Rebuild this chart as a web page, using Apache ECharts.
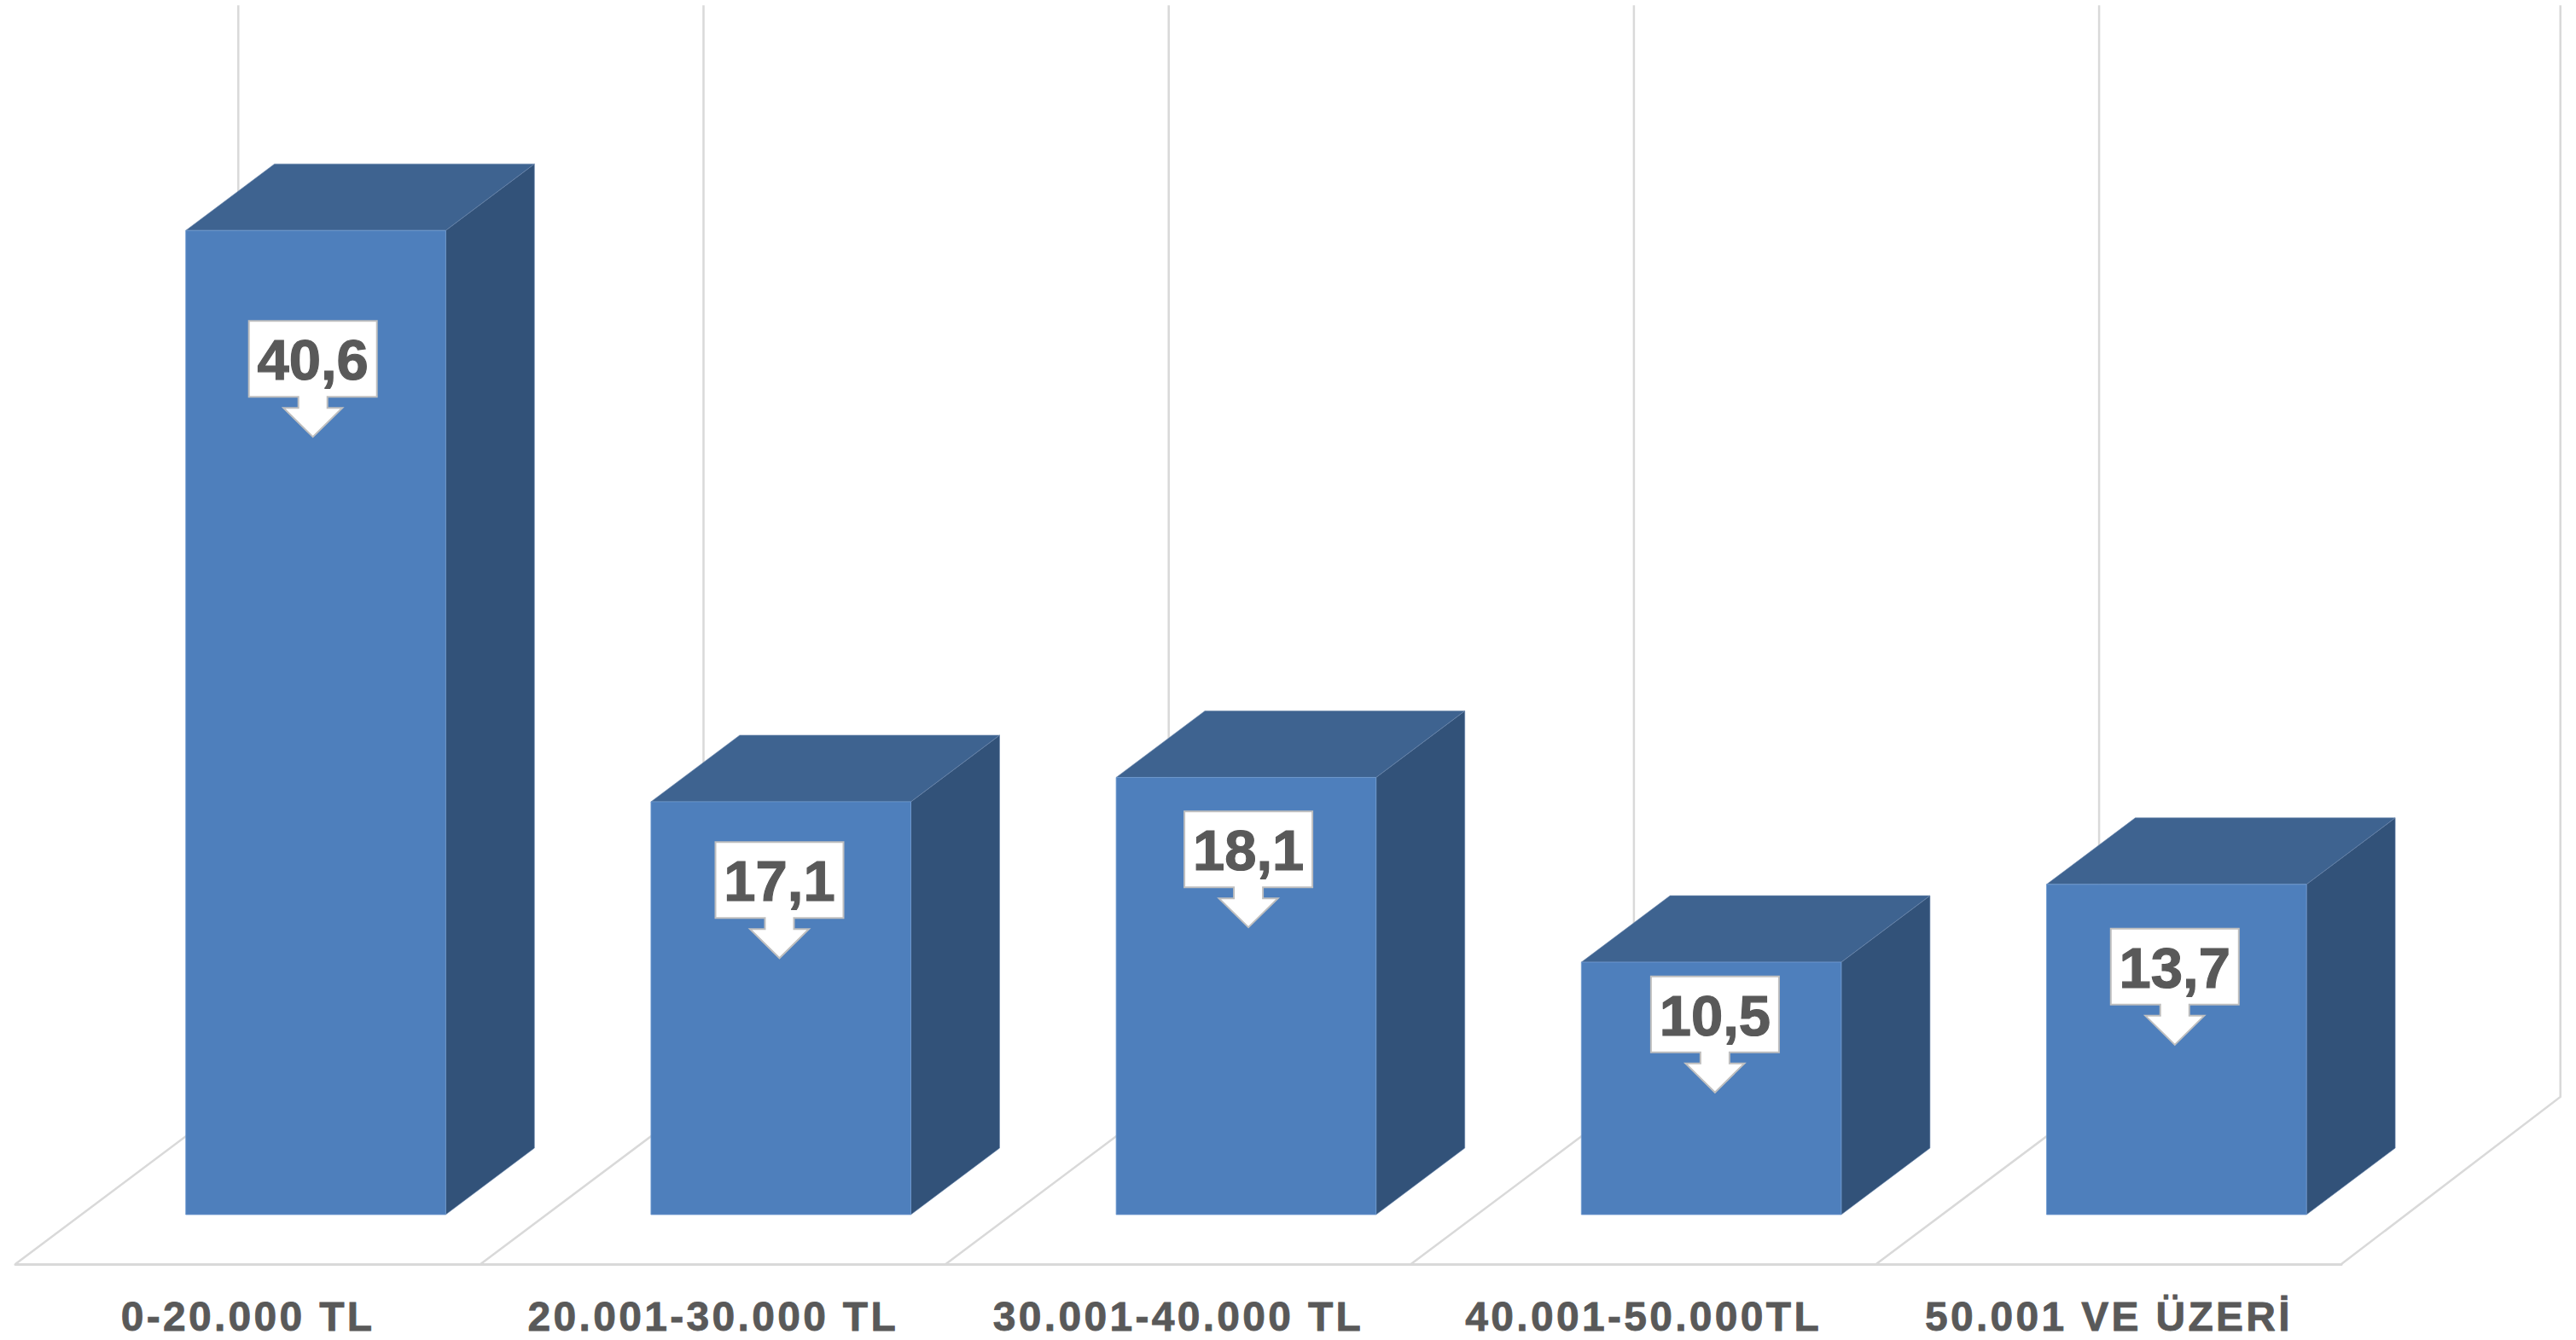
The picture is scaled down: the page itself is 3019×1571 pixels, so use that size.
<!DOCTYPE html>
<html>
<head>
<meta charset="utf-8">
<style>
html,body{margin:0;padding:0;background:#fff}
#chart{width:3019px;height:1571px}
#chart text[style*="48px"]{letter-spacing:3.3px}
</style>
<script src="https://cdn.jsdelivr.net/npm/echarts@6/dist/echarts.min.js"></script>
</head>
<body>
<div id="chart"></div>
<script>
const categories = ['0-20.000 TL','20.001-30.000 TL','30.001-40.000 TL','40.001-50.000TL','50.001 VE ÜZERİ'];
const values = [40.6, 17.1, 18.1, 10.5, 13.7];

// Layout of the fake-3D projection (pixels)
const barShiftX = 79.4, barWidth = 304.6, barDepthX = 104, barDepthY = 78, barBaseLift = 3.3;
const floorFrontY = 54.7, wallBackY = 141.3, wallDepthX = 261.3, wallEndDepthX = 256.7, wallTopValue = 44.9;
const calloutShiftX = [-3.3, -1.7, 2.7, 4.3, -2];
const calloutDrop = [106, 47.3, 39.7, 16.7, 52];

const chart = echarts.init(document.getElementById('chart'), null, {renderer:'svg', width:3019, height:1571});

function wallLine(api, i, edge, band) {
  const c0 = api.coord([i, 0]);
  const top = api.coord([i, wallTopValue]);
  const xFront = c0[0] + edge * band / 2;
  const xBack = xFront + (edge > 0 ? wallEndDepthX : wallDepthX);
  return {
    type: 'polyline',
    shape: {points: [[xFront, c0[1] + floorFrontY], [xBack, c0[1] - wallBackY], [xBack, top[1] - wallBackY]]},
    style: {fill: 'none', stroke: '#d9d9d9', lineWidth: 2.5}
  };
}

function renderWalls(params, api) {
  const i = api.value(0);
  const band = api.size([1, 0])[0];
  const children = [wallLine(api, i, -1, band)];
  if (i === categories.length - 1) children.push(wallLine(api, i, 1, band));
  return {type: 'group', children};
}

function renderBar(params, api) {
  const i = api.value(0);
  const top = api.coord([i, api.value(1)]);
  const base = api.coord([i, 0]);
  const cx = top[0] + barShiftX;
  const l = cx - barWidth / 2, r = cx + barWidth / 2;
  const dx = barDepthX, dy = barDepthY;
  const y0 = top[1], y1 = base[1] - barBaseLift;
  const boxCx = cx + calloutShiftX[i], boxTop = y0 + calloutDrop[i];
  const bw = 150, bh = 89, stem = 17, head = 34.5, shoulder = 13, tip = 47;
  const boxBottom = boxTop + bh;
  return {
    type: 'group',
    children: [
      {type:'polygon', shape:{points:[[r,y0],[r+dx,y0-dy],[r+dx,y1-dy],[r,y1]]},
       style:{fill:'#325279', stroke:'#5f7ea6', lineWidth:0.6}},
      {type:'polygon', shape:{points:[[l,y0],[l+dx,y0-dy],[r+dx,y0-dy],[r,y0]]},
       style:{fill:'#3e6390', stroke:'#6d88ad', lineWidth:0.6}},
      {type:'rect', shape:{x:l, y:y0, width:barWidth, height:y1-y0},
       style:{fill:'#4e7fbc', stroke:'#6f9bd1', lineWidth:0.8}},
      {type:'polygon', shape:{points:[
          [boxCx-bw/2,boxTop],[boxCx+bw/2,boxTop],[boxCx+bw/2,boxBottom],[boxCx+stem,boxBottom],
          [boxCx+stem,boxBottom+shoulder],[boxCx+head,boxBottom+shoulder],[boxCx,boxBottom+tip],
          [boxCx-head,boxBottom+shoulder],[boxCx-stem,boxBottom+shoulder],[boxCx-stem,boxBottom],[boxCx-bw/2,boxBottom]]},
       style:{fill:'#ffffff', stroke:'#bfbfbf', lineWidth:2}},
      {type:'text', style:{
        text: api.value(1).toFixed(1).replace('.', ','),
        x: boxCx, y: boxTop + bh / 2 + 1,
        align:'center', verticalAlign:'middle',
        font:'bold 67px "Liberation Sans"', fill:'#595959',
        stroke:'#595959', lineWidth:1.2}}
    ]
  };
}

chart.setOption({
  animation: false,
  backgroundColor: '#ffffff',
  grid: {left: 18, right: 275, top: 144.8, bottom: 143.7},
  xAxis: {
    type: 'category',
    data: categories,
    offset: floorFrontY,
    axisTick: {show: false},
    axisLine: {show: true, onZero: false, lineStyle: {color: '#d9d9d9', width: 3}},
    axisLabel: {
      interval: 0, margin: 37, color: '#595959',
      fontFamily: '"Liberation Sans"', fontWeight: 'bold', fontSize: 48,
      textBorderColor: '#595959', textBorderWidth: 0.8
    }
  },
  yAxis: {type: 'value', min: 0, max: 45, show: false, splitLine: {show: false}},
  series: [
    {type:'custom', coordinateSystem:'cartesian2d', clip:false, silent:true, z:1,
     renderItem: renderWalls, encode:{x:0,y:1}, data: values.map((v,i)=>[i,v])},
    {type:'custom', coordinateSystem:'cartesian2d', clip:false, silent:true, z:2,
     renderItem: renderBar, encode:{x:0,y:1}, data: values.map((v,i)=>[i,v])}
  ]
});
</script>
</body>
</html>
